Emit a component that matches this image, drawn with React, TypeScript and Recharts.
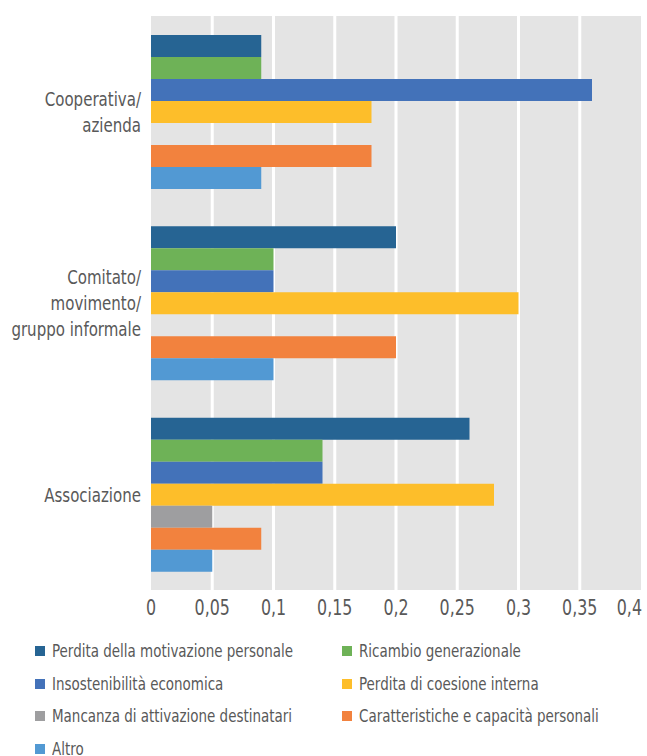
import React from "react";
import { BarChart, Bar, XAxis, YAxis, CartesianGrid } from "recharts";

const categories = ["Cooperativa/ azienda", "Comitato/ movimento/ gruppo informale", "Associazione"];
const categoryLines = [["Cooperativa/", "azienda"], ["Comitato/", "movimento/", "gruppo informale"], ["Associazione"]];

const seriesNames = [
  "Perdita della motivazione personale",
  "Ricambio generazionale",
  "Insostenibilità economica",
  "Perdita di coesione interna",
  "Mancanza di attivazione destinatari",
  "Caratteristiche e capacità personali",
  "Altro",
];
const seriesColors = ["#266493", "#6EB257", "#4372B9", "#FDBE2A", "#9E9EA0", "#F2823E", "#5299D3"];

// one array per series, in category order
const motivazione = [0.09, 0.2, 0.26];
const ricambio = [0.09, 0.1, 0.14];
const insostenibilita = [0.36, 0.1, 0.14];
const coesione = [0.18, 0.3, 0.28];
const mancanza = [0, 0, 0.05];
const caratteristiche = [0.18, 0.2, 0.09];
const altro = [0.09, 0.1, 0.05];

const xTicks = [0, 0.05, 0.1, 0.15, 0.2, 0.25, 0.3, 0.35, 0.4];

const seriesValues = [motivazione, ricambio, insostenibilita, coesione, mancanza, caratteristiche, altro];
const keys = seriesNames.map((_, i) => `s${i}`);

const data = categories.map((name, ci) => {
  const row: Record<string, number | string> = { name };
  seriesValues.forEach((vals, si) => {
    row[keys[si]] = vals[ci];
  });
  return row;
});

const FONT = "'DejaVu Sans Condensed', 'DejaVu Sans', sans-serif";
const TEXT = "#595959";

function CategoryTick(props: any) {
  const { x, y, payload } = props;
  const lines = categoryLines[categories.indexOf(payload.value)] || [payload.value];
  const lh = 26;
  const start = -((lines.length - 1) * lh) / 2;
  return (
    <g transform={`translate(${x},${y}) scale(0.88,1)`}>
      <text x={0} y={start} textAnchor="end" fill={TEXT} fontSize={19} fontFamily={FONT} dominantBaseline="central">
        {lines.map((l: string, i: number) => (
          <tspan key={i} x={0} y={start + i * lh}>
            {l}
          </tspan>
        ))}
      </text>
    </g>
  );
}

function ValueTick(props: any) {
  const { x, y, payload, index } = props;
  // last label sits inside the chart edge, as in the original
  const last = index === xTicks.length - 1;
  return (
    <g transform={`translate(${last ? x + 1 : x},${y}) scale(0.84,1)`}>
      <text
        x={0}
        y={0}
        textAnchor={last ? "end" : "middle"}
        fill={TEXT}
        fontSize={21}
        fontFamily={FONT}
        dominantBaseline="central"
      >
        {String(payload.value).replace(".", ",")}
      </text>
    </g>
  );
}

export default function App() {
  return (
    <div style={{ position: "absolute", left: 0, top: 0, width: 647, height: 756, background: "#fff" }}>
      <BarChart
        width={647}
        height={630}
        data={data}
        layout="vertical"
        margin={{ top: 16, right: 6, left: 0, bottom: 0 }}
        barGap={0}
      >
        <CartesianGrid horizontal={false} fill="#E4E4E4" stroke="#FFFFFF" strokeWidth={3} verticalValues={xTicks.slice(1, -1)} />
        <XAxis
          type="number"
          domain={[0, 0.4]}
          ticks={xTicks}
          interval={0}
          axisLine={false}
          tickLine={false}
          tickSize={0}
          tickMargin={18}
          height={40}
          tick={<ValueTick />}
        />
        <YAxis
          type="category"
          dataKey="name"
          width={151}
          axisLine={false}
          tickLine={false}
          tickSize={0}
          tickMargin={10}
          tick={<CategoryTick />}
        />
        {keys.map((k, i) => (
          <Bar key={k} dataKey={k} name={seriesNames[i]} fill={seriesColors[i]} barSize={22} isAnimationActive={false} />
        ))}
      </BarChart>
      {seriesNames.map((n, i) => {
        const col = i % 2;
        const row = Math.floor(i / 2);
        return (
          <div
            key={n}
            style={{
              position: "absolute",
              left: col === 0 ? 35 : 342,
              top: 651 + row * 32.7 - 11,
              height: 22,
              display: "flex",
              alignItems: "center",
              fontFamily: FONT,
              fontSize: 17,
              color: TEXT,
              whiteSpace: "nowrap",
            }}
          >
            <span style={{ display: "inline-block", width: 10, height: 10, background: seriesColors[i], marginRight: 7 }} />
            <span style={{ display: "inline-block", transform: "scaleX(0.88)", transformOrigin: "left center" }}>{n}</span>
          </div>
        );
      })}
    </div>
  );
}
